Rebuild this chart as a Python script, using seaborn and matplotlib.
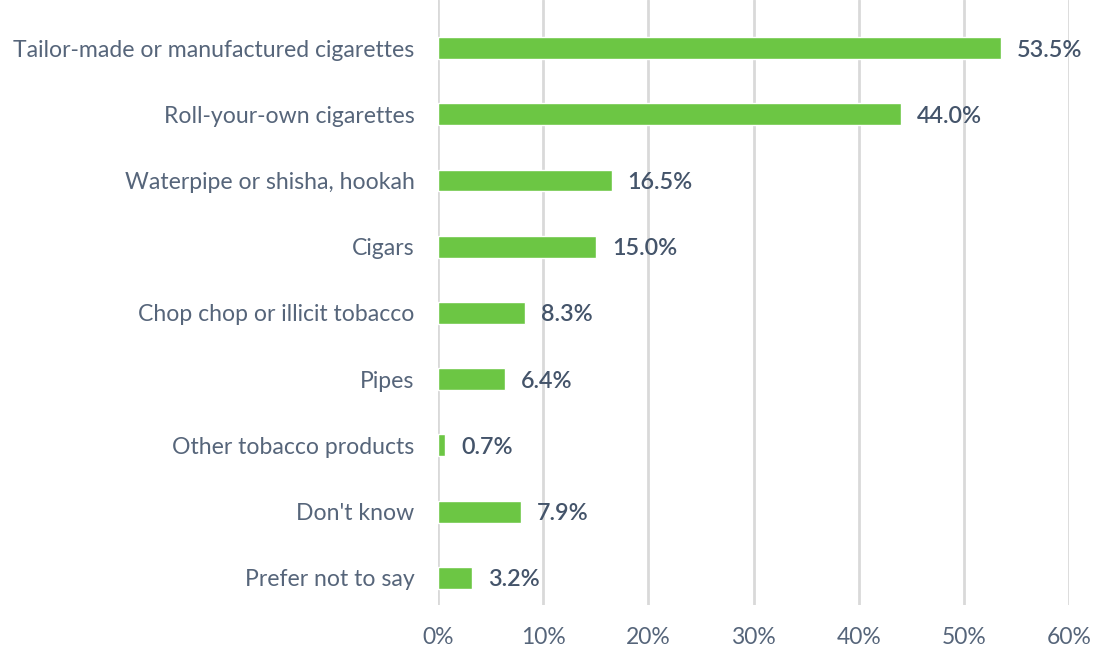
import matplotlib
matplotlib.use("Agg")
import matplotlib.pyplot as plt
import seaborn as sns
import pandas as pd

categories = ["Tailor-made or manufactured cigarettes", "Roll-your-own cigarettes",
              "Waterpipe or shisha, hookah", "Cigars", "Chop chop or illicit tobacco",
              "Pipes", "Other tobacco products", "Don't know", "Prefer not to say"]
values = [53.5, 44.0, 16.5, 15.0, 8.3, 6.4, 0.7, 7.9, 3.2]
xticks = [0, 10, 20, 30, 40, 50, 60]

sns.set_theme(style="white")
plt.rcParams['font.family'] = ['Lato', 'DejaVu Sans']

df = pd.DataFrame({"cat": categories, "val": values})
fig = plt.figure(figsize=(10.94, 6.52), dpi=100)
ax = fig.add_axes([438/1094, 1-605/652, (1069-438)/1094, 605/652])
sns.barplot(data=df, y="cat", x="val", color="#6CC644", saturation=1, width=0.33, ax=ax, orient="h")

ax.set_xlim(0, 60)
ax.set_ylim(8.41, -0.725)
ax.set_xticks(xticks)
ax.set_xticklabels([f"{t}%" for t in xticks])
ax.xaxis.grid(True, color="#d9d9d9", linewidth=2)
ax.set_axisbelow(True)
for s in ax.spines.values():
    s.set_visible(False)
ax.set_xlabel("")
ax.set_ylabel("")
ax.tick_params(axis="y", length=0, pad=17, labelsize=16.6, labelcolor="#56657a")
ax.tick_params(axis="x", length=0, pad=16, labelsize=16.5, labelcolor="#56657a")

for i, v in enumerate(values):
    ax.annotate(f"{v:.1f}%", xy=(v, i), xytext=(16, -2), textcoords="offset pixels",
                va="center", ha="left", fontsize=16.8, fontweight="semibold", color="#44546a")

fig.savefig("out.png", dpi=100)
